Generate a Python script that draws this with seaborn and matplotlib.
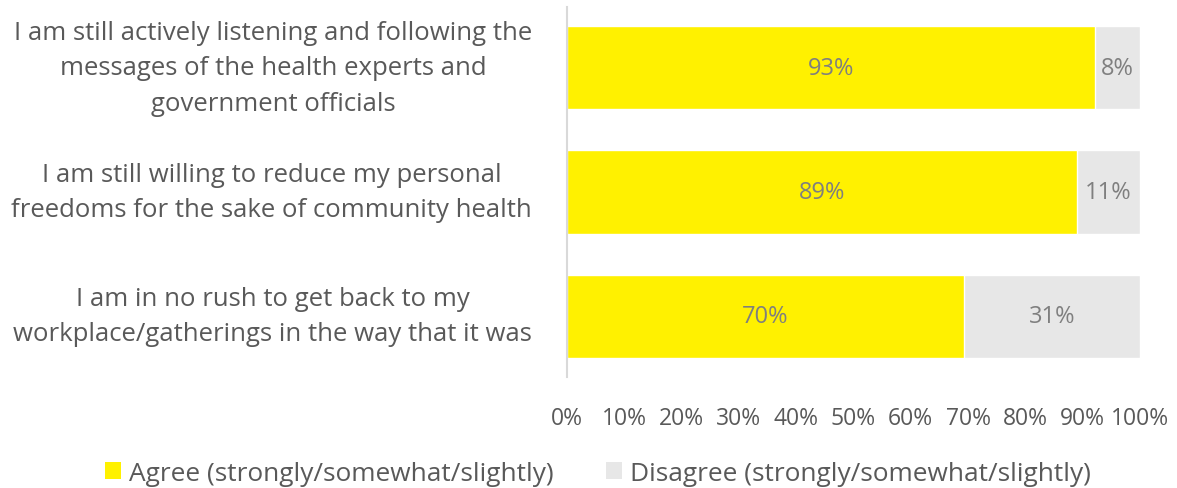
import matplotlib
matplotlib.use("Agg")
import matplotlib.pyplot as plt
from matplotlib.patches import Patch
import numpy as np
import pandas as pd
import seaborn as sns

# Survey statements and responses (percent)
statements = [
    "I am still actively listening and following the\nmessages of the health experts and\ngovernment officials",
    "I am still willing to reduce my personal\nfreedoms for the sake of community health",
    "I am in no rush to get back to my\nworkplace/gatherings in the way that it was",
]
agree = [93, 89, 70]
disagree = [8, 11, 31]
x_ticks = [0, 10, 20, 30, 40, 50, 60, 70, 80, 90, 100]
series_names = ["Agree (strongly/somewhat/slightly)", "Disagree (strongly/somewhat/slightly)"]

YELLOW = "#fff100"
GREY = "#e7e7e7"
TEXT = "#595959"
LABEL = "#7f7f7f"

sns.set_theme(style="white")
plt.rcParams["font.family"] = ["Open Sans", "DejaVu Sans"]

# 100% stacked: each row is scaled to its own total
total = np.array(agree, float) + np.array(disagree, float)
agree_share = np.array(agree) / total * 100
df = pd.DataFrame({"statement": statements, "agree": agree_share, "full": 100.0})

fig = plt.figure(figsize=(11.77, 4.89), dpi=100)
ax = fig.add_axes([0.4817, 0.227, 0.4869, 0.7566])

sns.barplot(data=df, y="statement", x="full", orient="h", color=GREY,
            saturation=1, width=0.67, ax=ax)
sns.barplot(data=df, y="statement", x="agree", orient="h", color=YELLOW,
            saturation=1, width=0.67, ax=ax)

for i in range(len(statements)):
    a = agree_share[i]
    ax.text(a / 2, i, f"{agree[i]}%", ha="center", va="center",
            fontsize=17, color=LABEL)
    ax.text(a + (100 - a) / 2, i, f"{disagree[i]}%", ha="center", va="center",
            fontsize=17, color=LABEL)

ax.set_xlim(0, 100)
ax.set_ylim(2.49, -0.49)
ax.set_xticks(x_ticks)
ax.set_xticklabels([f"{t}%" for t in x_ticks], fontsize=16.5, color=TEXT)
ax.set_yticks(range(len(statements)))
ax.set_yticklabels(statements, fontsize=18.5, color=TEXT, va="center",
                   multialignment="center", linespacing=1.55)
ax.tick_params(axis="x", length=0, pad=21)
ax.tick_params(axis="y", length=0, pad=25)
ax.set_xlabel("")
ax.set_ylabel("")
for side in ["top", "right", "bottom"]:
    ax.spines[side].set_visible(False)
ax.spines["left"].set_color("#d9d9d9")
ax.spines["left"].set_linewidth(1.5)

handles = [Patch(facecolor=YELLOW, edgecolor="none"),
           Patch(facecolor=GREY, edgecolor="none")]
fig.legend(handles, series_names, loc="lower center", bbox_to_anchor=(0.508, -0.044),
           ncol=2, frameon=False, fontsize=18.9, labelcolor=TEXT,
           handlelength=0.6, handleheight=0.6, handletextpad=0.3, columnspacing=2.0)

fig.savefig("out.png", dpi=100)
